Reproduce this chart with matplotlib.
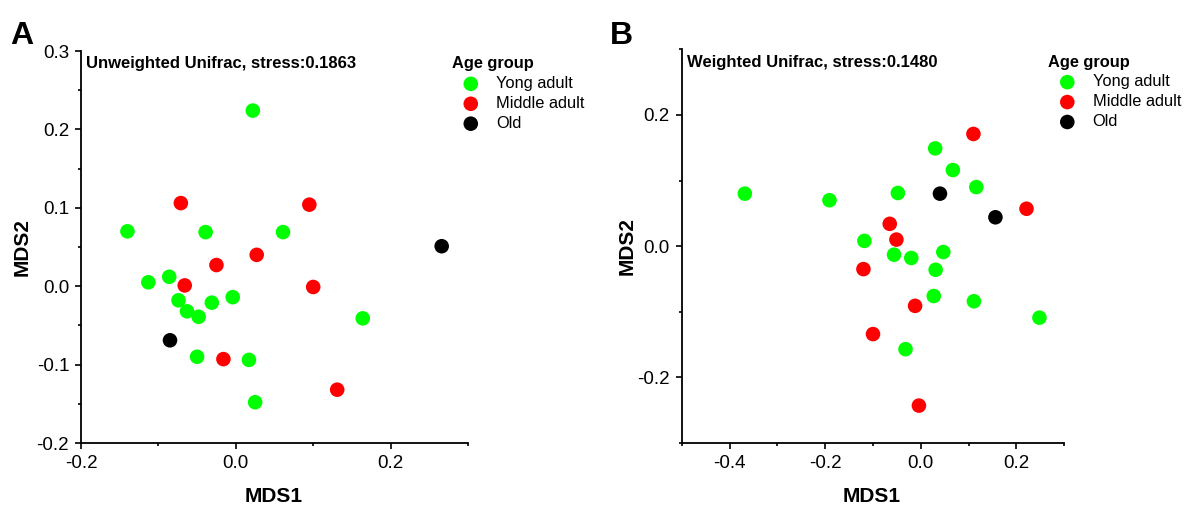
import numpy as np
import matplotlib
matplotlib.use('Agg')
import matplotlib.pyplot as plt
from matplotlib.ticker import MultipleLocator, FormatStrFormatter

plt.rcParams['font.family'] = ['Liberation Sans', 'DejaVu Sans']

groups = ["Yong adult", "Middle adult", "Old"]
colors = ["#00ff00", "#ff0000", "#000000"]

# Panel A: unweighted unifrac NMDS
a_young_x = [0.022, -0.140, -0.039, 0.061, -0.113, -0.086, -0.074, -0.063, -0.048, -0.031, -0.004, 0.164, -0.050, 0.017, 0.025]
a_young_y = [0.224, 0.070, 0.069, 0.069, 0.005, 0.012, -0.018, -0.032, -0.039, -0.021, -0.014, -0.041, -0.090, -0.094, -0.148]
a_middle_x = [-0.071, 0.095, 0.027, -0.025, -0.066, 0.100, -0.016, 0.131]
a_middle_y = [0.106, 0.104, 0.040, 0.027, 0.001, -0.001, -0.093, -0.132]
a_old_x = [0.266, -0.085]
a_old_y = [0.051, -0.069]

# Panel B: weighted unifrac NMDS
b_young_x = [-0.368, -0.191, -0.048, 0.030, 0.067, 0.116, -0.118, -0.056, -0.020, 0.047, 0.031, 0.027, 0.111, 0.248, -0.032]
b_young_y = [0.080, 0.070, 0.081, 0.149, 0.116, 0.090, 0.008, -0.013, -0.018, -0.009, -0.036, -0.076, -0.084, -0.109, -0.157]
b_middle_x = [0.110, 0.221, -0.065, -0.051, -0.120, -0.012, -0.100, -0.004]
b_middle_y = [0.171, 0.057, 0.034, 0.010, -0.035, -0.091, -0.134, -0.243]
b_old_x = [0.040, 0.156]
b_old_y = [0.080, 0.044]

W, H = 1189, 507
fig = plt.figure(figsize=(W / 100, H / 100), dpi=100)
axA = fig.add_axes([81 / W, 1 - 443 / H, 387 / W, 392 / H])
axB = fig.add_axes([681.7 / W, 1 - 443 / H, 382.6 / W, 393.7 / H])


def draw(ax, data, title, xlim, ylim, xmaj, xmin, ymaj, ymin, legx, ylab_x):
    for (x, y), c, g in zip(data, colors, groups):
        ax.scatter(x, y, s=110, color=c, edgecolors='none', label=g, zorder=3)
    ax.set_xlim(*xlim)
    ax.set_ylim(*ylim)
    ax.xaxis.set_major_locator(MultipleLocator(xmaj))
    ax.xaxis.set_minor_locator(MultipleLocator(xmin))
    ax.yaxis.set_major_locator(MultipleLocator(ymaj))
    ax.yaxis.set_minor_locator(MultipleLocator(ymin))
    ax.xaxis.set_major_formatter(FormatStrFormatter('%.1f'))
    ax.yaxis.set_major_formatter(FormatStrFormatter('%.1f'))
    for s in ['top', 'right']:
        ax.spines[s].set_visible(False)
    for s in ['left', 'bottom']:
        ax.spines[s].set_linewidth(1.3)
    ax.tick_params(which='major', length=4.5, width=1.2, labelsize=13.5, pad=4, direction='out')
    ax.tick_params(which='minor', length=2.5, width=1.2, direction='out')
    ax.set_xlabel("MDS1", fontsize=15, fontweight='bold')
    ax.set_ylabel("MDS2", fontsize=15, fontweight='bold')
    ax.xaxis.set_label_coords(0.497, -0.113)
    ax.yaxis.set_label_coords(ylab_x, 0.5)
    ax.annotate(title, (0, 1), xycoords='axes fraction', xytext=(3.6, -3.8),
                textcoords='offset points', fontsize=12, fontweight='bold',
                va='top', ha='left')
    leg = ax.legend(loc='upper left', bbox_to_anchor=(legx, 0.995), frameon=False,
                    title="Age group", fontsize=11.8, handlelength=2.3,
                    handletextpad=0.4, labelspacing=0.3, borderaxespad=0,
                    borderpad=0.2)
    leg.get_title().set_fontweight('bold')
    leg.get_title().set_fontsize(11.8)
    leg._legend_box.align = "left"


draw(axA, [(a_young_x, a_young_y), (a_middle_x, a_middle_y), (a_old_x, a_old_y)],
     "Unweighted Unifrac, stress:0.1863", (-0.2, 0.3), (-0.2, 0.3),
     0.2, 0.1, 0.1, 0.05, 0.95, -0.127)
draw(axB, [(b_young_x, b_young_y), (b_middle_x, b_middle_y), (b_old_x, b_old_y)],
     "Weighted Unifrac, stress:0.1480", (-0.5, 0.3), (-0.3, 0.3),
     0.2, 0.1, 0.2, 0.1, 0.95, -0.118)

fig.text(10 / W, 1 - 44 / H, "A", fontsize=23, fontweight='bold')
fig.text(610 / W, 1 - 44 / H, "B", fontsize=23, fontweight='bold')

fig.savefig("out.png", dpi=100)
